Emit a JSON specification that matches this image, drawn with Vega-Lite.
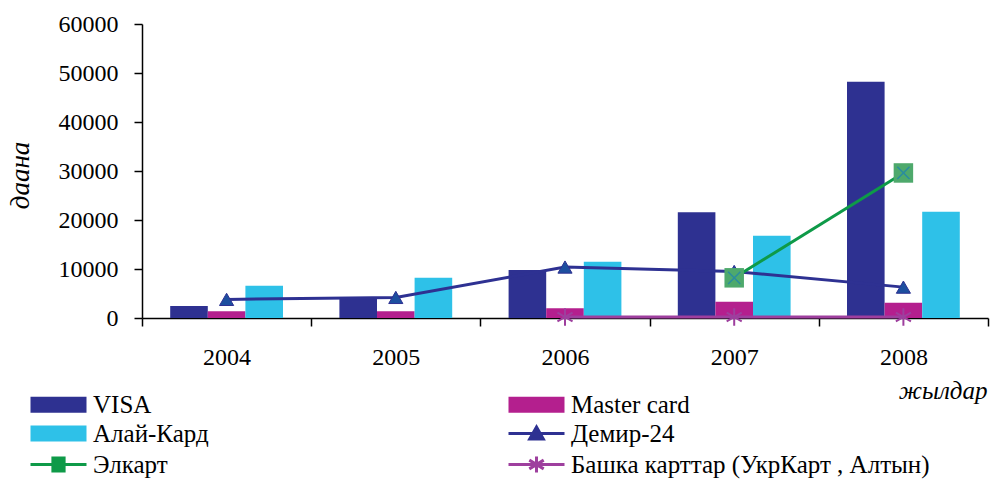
{
  "$schema": "https://vega.github.io/schema/vega-lite/v6.json",
  "width": 846,
  "height": 294,
  "autosize": {"type": "none"},
  "padding": {"left": 142, "top": 24, "right": 2, "bottom": 163},
  "background": "white",
  "config": {
    "font": "Liberation Serif, Times New Roman, DejaVu Serif, serif",
    "view": {"stroke": null},
    "axis": {
      "domainColor": "black", "domainWidth": 1.5, "tickColor": "black", "tickWidth": 1.5,
      "labelColor": "black", "labelFont": "Liberation Serif, Times New Roman, DejaVu Serif, serif", "labelFontSize": 24,
      "titleFont": "Liberation Serif, Times New Roman, DejaVu Serif, serif", "titleFontWeight": "normal", "titleColor": "black", "grid": false
    },
    "legend": {"labelFont": "Liberation Serif, Times New Roman, DejaVu Serif, serif", "labelFontSize": 25, "labelColor": "black", "labelLimit": 0}
  },
  "data": {
    "values": [
      {"year": "2004", "series": "VISA", "value": 2450},
      {"year": "2004", "series": "Master card", "value": 1400},
      {"year": "2004", "series": "Алай-Кард", "value": 6600},
      {"year": "2004", "series": "Демир-24", "value": 3800},
      {"year": "2005", "series": "VISA", "value": 3900},
      {"year": "2005", "series": "Master card", "value": 1400},
      {"year": "2005", "series": "Алай-Кард", "value": 8200},
      {"year": "2005", "series": "Демир-24", "value": 4200},
      {"year": "2006", "series": "VISA", "value": 9800},
      {"year": "2006", "series": "Master card", "value": 2000},
      {"year": "2006", "series": "Алай-Кард", "value": 11500},
      {"year": "2006", "series": "Демир-24", "value": 10400},
      {"year": "2006", "series": "Башка карттар (УкрКарт , Алтын)", "value": 200},
      {"year": "2007", "series": "VISA", "value": 21600},
      {"year": "2007", "series": "Master card", "value": 3300},
      {"year": "2007", "series": "Алай-Кард", "value": 16800},
      {"year": "2007", "series": "Демир-24", "value": 9500},
      {"year": "2007", "series": "Элкарт", "value": 8200},
      {"year": "2007", "series": "Башка карттар (УкрКарт , Алтын)", "value": 200},
      {"year": "2008", "series": "VISA", "value": 48200},
      {"year": "2008", "series": "Master card", "value": 3100},
      {"year": "2008", "series": "Алай-Кард", "value": 21700},
      {"year": "2008", "series": "Демир-24", "value": 6300},
      {"year": "2008", "series": "Элкарт", "value": 29600},
      {"year": "2008", "series": "Башка карттар (УкрКарт , Алтын)", "value": 200}
    ]
  },
  "encoding": {
    "x": {
      "field": "year", "type": "nominal",
      "scale": {"paddingInner": 0, "paddingOuter": 0},
      "axis": {
        "title": "жылдар", "titleFontStyle": "italic", "titleFontSize": 25,
        "titleAnchor": "end", "titleAlign": "right", "titleX": 845, "titleY": 72, "titleBaseline": "middle",
        "labelAngle": 0, "tickBand": "extent", "tickSize": 8, "labelPadding": 19
      }
    },
    "y": {
      "field": "value", "type": "quantitative",
      "scale": {"domain": [0, 60000], "nice": false},
      "axis": {
        "title": "даана", "titleFontStyle": "italic", "titleFontSize": 27,
        "titleX": -122, "titleY": 151, "titleAngle": -90, "titleAlign": "center", "titleBaseline": "middle",
        "values": [0, 10000, 20000, 30000, 40000, 50000, 60000], "format": "d",
        "tickSize": 8, "labelPadding": 16
      }
    }
  },
  "layer": [
    {
      "transform": [{"filter": "indexof(['VISA','Master card','Алай-Кард'], datum.series) >= 0"}],
      "mark": {"type": "bar"},
      "encoding": {
        "xOffset": {"field": "series", "type": "nominal", "sort": ["VISA", "Master card", "Алай-Кард"], "scale": {"paddingInner": 0, "paddingOuter": 0.75}},
        "color": {
          "field": "series", "type": "nominal",
          "scale": {
            "domain": ["VISA", "Master card", "Алай-Кард", "Демир-24", "Элкарт", "Башка карттар (УкрКарт , Алтын)"],
            "range": ["#2E3191", "#B41F8E", "#2EC1E8", "#2E3192", "#0E9A48", "#9E3F9E"]
          },
          "legend": {
            "title": null, "orient": "none", "legendX": -116, "legendY": 368, "columns": 2, "direction": "horizontal",
            "columnPadding": 293, "rowPadding": 3, "symbolSize": 256, "labelOffset": 42, "labelLimit": 0,
            "encode": {
              "symbols": {
                "update": {
                  "shape": {"signal": "datum.value == 'Демир-24' ? 'M-1,0H6M2.5,-0.8L3.35,0.7H1.65Z' : datum.value == 'Элкарт' ? 'M-1,0H6M1.8,-0.8H3.2V0.8H1.8Z' : datum.value == 'Башка карттар (УкрКарт , Алтын)' ? 'M-1,0H6M2.5,-1V1M1.6,-0.55L3.4,0.55M1.6,0.55L3.4,-0.55' : 'M-1,-1H6V1H-1Z'"},
                  "fill": {"signal": "datum.value == 'Башка карттар (УкрКарт , Алтын)' ? 'transparent' : datum.value == 'Элкарт' ? '#4EA96C' : datum.value == 'Демир-24' ? '#1D4F9F' : scale('color', datum.value)"},
                  "stroke": {"signal": "scale('color', datum.value)"},
                  "strokeWidth": {"signal": "indexof(['VISA','Master card','Алай-Кард'], datum.value) >= 0 ? 0 : 3"},
                  "opacity": {"value": 1},
                  "fillOpacity": {"value": 1},
                  "strokeOpacity": {"value": 1}
                }
              }
            }
          }
        }
      }
    },
    {
      "transform": [{"filter": "datum.series == 'Демир-24'"}],
      "mark": {"type": "line", "strokeWidth": 3},
      "encoding": {"color": {"field": "series", "type": "nominal"}}
    },
    {
      "transform": [{"filter": "datum.series == 'Демир-24'"}],
      "mark": {"type": "point", "shape": "triangle-up", "size": 200, "filled": true, "fill": "#1D4F9F", "stroke": "#2E3192", "strokeWidth": 1, "opacity": 1},
      "encoding": {}
    },
    {
      "transform": [{"filter": "datum.series == 'Элкарт'"}],
      "mark": {"type": "line", "strokeWidth": 3},
      "encoding": {"color": {"field": "series", "type": "nominal"}}
    },
    {
      "transform": [{"filter": "datum.series == 'Элкарт'"}],
      "mark": {"type": "point", "shape": "square", "size": 380, "filled": true, "fill": "#4EA96C", "opacity": 1},
      "encoding": {}
    },
    {
      "transform": [{"filter": "datum.series == 'Элкарт'"}],
      "mark": {"type": "point", "shape": "M-1,-1L1,1M-1,1L1,-1", "size": 150, "filled": false, "stroke": "#2A8CA0", "strokeWidth": 1.5, "opacity": 1},
      "encoding": {}
    },
    {
      "transform": [{"filter": "datum.series == 'Башка карттар (УкрКарт , Алтын)'"}],
      "mark": {"type": "line", "strokeWidth": 3},
      "encoding": {"color": {"field": "series", "type": "nominal"}}
    },
    {
      "transform": [{"filter": "datum.series == 'Башка карттар (УкрКарт , Алтын)'"}],
      "mark": {"type": "point", "shape": "M0,-1V1M-0.87,-0.5L0.87,0.5M-0.87,0.5L0.87,-0.5", "size": 300, "filled": false, "stroke": "#9E3F9E", "strokeWidth": 2, "opacity": 1},
      "encoding": {}
    }
  ]
}
